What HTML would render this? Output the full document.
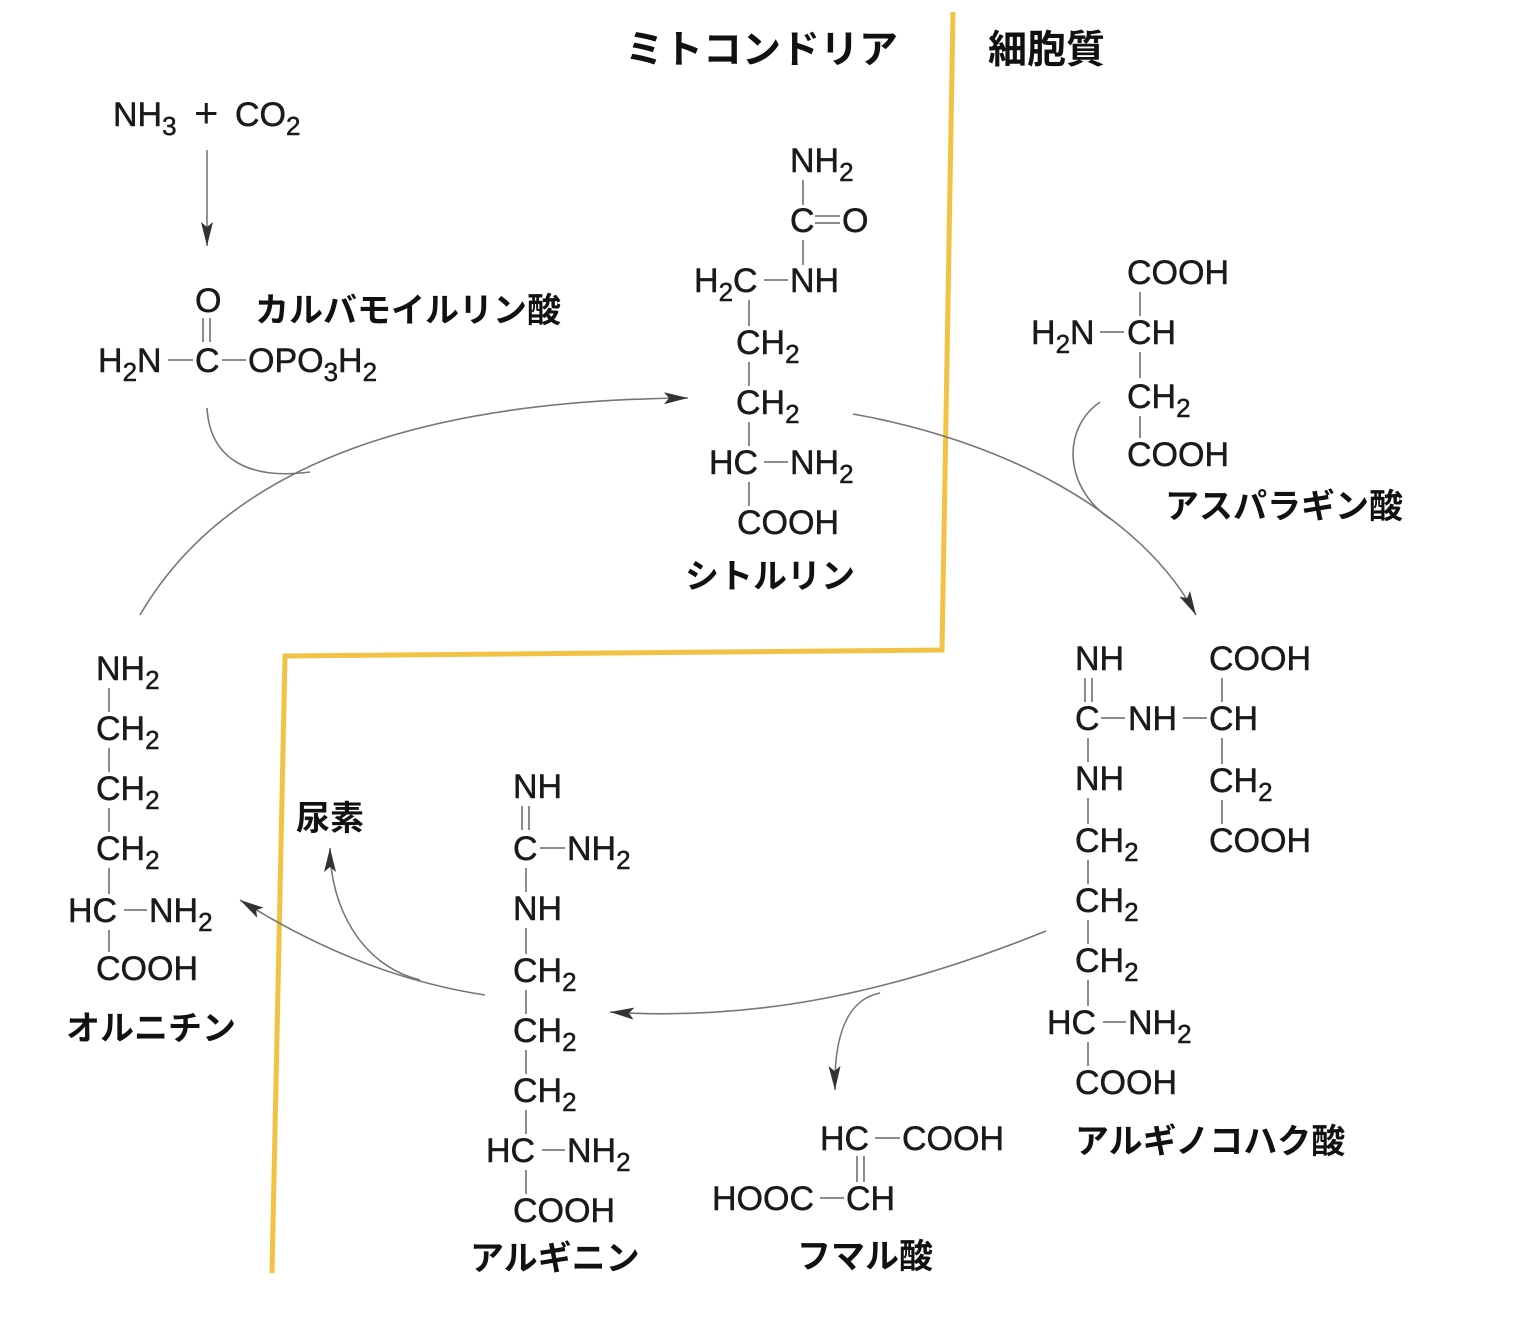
<!DOCTYPE html>
<html><head><meta charset="utf-8"><style>
html,body{margin:0;padding:0;background:#fff;}
svg{display:block;}
.c{font-family:"Liberation Sans",sans-serif;font-size:34px;fill:#1a1a1a;stroke:#1a1a1a;stroke-width:0.5;}
.j{font-family:"Liberation Sans","Noto Sans CJK JP",sans-serif;font-size:34px;font-weight:bold;fill:#111;}
.s{font-size:26px;}
.b{stroke:#666;stroke-width:1.5;fill:none;}
.a{stroke:#777;stroke-width:1.6;fill:none;}
</style></head><body>
<svg width="1514" height="1320" viewBox="0 0 1514 1320" xmlns="http://www.w3.org/2000/svg">
<defs>
<marker id="ar" viewBox="0 0 24 12" refX="24" refY="6" markerWidth="24" markerHeight="12" markerUnits="userSpaceOnUse" orient="auto">
<path d="M0,0 L24,6 L0,12 L5,6 Z" fill="#333"/></marker>
</defs>

<polyline points="953,12 942,650 285,656 272,1273" fill="none" stroke="#f1c244" stroke-width="5"/>

<text class="j" x="625" y="63" style="font-size:39px">ミトコンドリア</text>
<text class="j" x="988" y="63" style="font-size:39px">細胞質</text>

<text class="c" x="113" y="126">NH<tspan class="s" dy="9">3</tspan></text>
<text class="c" x="194" y="127" style="font-size:42px;stroke-width:0">+</text>
<text class="c" x="235" y="126">CO<tspan class="s" dy="9">2</tspan></text>
<path class="a" d="M207,150 L207,246" marker-end="url(#ar)"/>

<text class="c" x="195" y="312">O</text>
<line class="b" x1="203" y1="318" x2="203" y2="342"/><line class="b" x1="210" y1="318" x2="210" y2="342"/>
<text class="c" x="98" y="372">H<tspan class="s" dy="9">2</tspan><tspan dy="-9">N</tspan></text>
<line class="b" x1="168" y1="360" x2="193" y2="360"/>
<text class="c" x="195" y="372">C</text>
<line class="b" x1="222" y1="360" x2="246" y2="360"/>
<text class="c" x="248" y="372">OPO<tspan class="s" dy="9">3</tspan><tspan dy="-9">H</tspan><tspan class="s" dy="9">2</tspan></text>
<text class="j" x="255" y="322">カルバモイルリン酸</text>

<text class="c" x="790" y="172">NH<tspan class="s" dy="9">2</tspan></text>
<line class="b" x1="803" y1="180" x2="803" y2="205"/>
<text class="c" x="790" y="232">C</text>
<line class="b" x1="815" y1="216" x2="840" y2="216"/><line class="b" x1="815" y1="223" x2="840" y2="223"/>
<text class="c" x="842" y="232">O</text>
<line class="b" x1="803" y1="240" x2="803" y2="265"/>
<text class="c" x="694" y="292">H<tspan class="s" dy="9">2</tspan><tspan dy="-9">C</tspan></text>
<line class="b" x1="764" y1="280" x2="788" y2="280"/>
<text class="c" x="790" y="292">NH</text>
<line class="b" x1="749" y1="300" x2="749" y2="326"/>
<text class="c" x="736" y="354">CH<tspan class="s" dy="9">2</tspan></text>
<line class="b" x1="749" y1="362" x2="749" y2="386"/>
<text class="c" x="736" y="414">CH<tspan class="s" dy="9">2</tspan></text>
<line class="b" x1="749" y1="422" x2="749" y2="446"/>
<text class="c" x="709" y="474">HC</text>
<line class="b" x1="764" y1="462" x2="788" y2="462"/>
<text class="c" x="790" y="474">NH<tspan class="s" dy="9">2</tspan></text>
<line class="b" x1="749" y1="482" x2="749" y2="506"/>
<text class="c" x="737" y="534">COOH</text>
<text class="j" x="685" y="588">シトルリン</text>

<text class="c" x="1127" y="284">COOH</text>
<line class="b" x1="1140" y1="292" x2="1140" y2="316"/>
<text class="c" x="1031" y="344">H<tspan class="s" dy="9">2</tspan><tspan dy="-9">N</tspan></text>
<line class="b" x1="1100" y1="332" x2="1124" y2="332"/>
<text class="c" x="1127" y="344">CH</text>
<line class="b" x1="1140" y1="352" x2="1140" y2="378"/>
<text class="c" x="1127" y="408">CH<tspan class="s" dy="9">2</tspan></text>
<line class="b" x1="1140" y1="416" x2="1140" y2="438"/>
<text class="c" x="1127" y="466">COOH</text>
<text class="j" x="1165" y="518">アスパラギン酸</text>

<text class="c" x="1075" y="670">NH</text>
<text class="c" x="1209" y="670">COOH</text>
<line class="b" x1="1085" y1="678" x2="1085" y2="702"/><line class="b" x1="1092" y1="678" x2="1092" y2="702"/>
<line class="b" x1="1222" y1="678" x2="1222" y2="702"/>
<text class="c" x="1075" y="730">C</text>
<line class="b" x1="1101" y1="718" x2="1125" y2="718"/>
<text class="c" x="1128" y="730">NH</text>
<line class="b" x1="1183" y1="718" x2="1207" y2="718"/>
<text class="c" x="1209" y="730">CH</text>
<line class="b" x1="1088" y1="738" x2="1088" y2="762"/>
<line class="b" x1="1222" y1="738" x2="1222" y2="764"/>
<text class="c" x="1075" y="790">NH</text>
<text class="c" x="1209" y="792">CH<tspan class="s" dy="9">2</tspan></text>
<line class="b" x1="1088" y1="798" x2="1088" y2="824"/>
<line class="b" x1="1222" y1="800" x2="1222" y2="824"/>
<text class="c" x="1075" y="852">CH<tspan class="s" dy="9">2</tspan></text>
<text class="c" x="1209" y="852">COOH</text>
<line class="b" x1="1088" y1="860" x2="1088" y2="884"/>
<text class="c" x="1075" y="912">CH<tspan class="s" dy="9">2</tspan></text>
<line class="b" x1="1088" y1="920" x2="1088" y2="944"/>
<text class="c" x="1075" y="972">CH<tspan class="s" dy="9">2</tspan></text>
<line class="b" x1="1088" y1="980" x2="1088" y2="1006"/>
<text class="c" x="1047" y="1034">HC</text>
<line class="b" x1="1103" y1="1022" x2="1126" y2="1022"/>
<text class="c" x="1128" y="1034">NH<tspan class="s" dy="9">2</tspan></text>
<line class="b" x1="1088" y1="1042" x2="1088" y2="1066"/>
<text class="c" x="1075" y="1094">COOH</text>
<text class="j" x="1075" y="1153">アルギノコハク酸</text>

<text class="c" x="820" y="1150">HC</text>
<line class="b" x1="875" y1="1138" x2="900" y2="1138"/>
<text class="c" x="902" y="1150">COOH</text>
<line class="b" x1="857" y1="1156" x2="857" y2="1182"/><line class="b" x1="864" y1="1156" x2="864" y2="1182"/>
<text class="c" x="712" y="1210">HOOC</text>
<line class="b" x1="820" y1="1198" x2="844" y2="1198"/>
<text class="c" x="846" y="1210">CH</text>
<text class="j" x="797" y="1268">フマル酸</text>

<text class="c" x="513" y="798">NH</text>
<line class="b" x1="522" y1="806" x2="522" y2="830"/><line class="b" x1="529" y1="806" x2="529" y2="830"/>
<text class="c" x="513" y="860">C</text>
<line class="b" x1="540" y1="848" x2="565" y2="848"/>
<text class="c" x="567" y="860">NH<tspan class="s" dy="9">2</tspan></text>
<line class="b" x1="526" y1="868" x2="526" y2="892"/>
<text class="c" x="513" y="920">NH</text>
<line class="b" x1="526" y1="928" x2="526" y2="954"/>
<text class="c" x="513" y="982">CH<tspan class="s" dy="9">2</tspan></text>
<line class="b" x1="526" y1="990" x2="526" y2="1014"/>
<text class="c" x="513" y="1042">CH<tspan class="s" dy="9">2</tspan></text>
<line class="b" x1="526" y1="1050" x2="526" y2="1074"/>
<text class="c" x="513" y="1102">CH<tspan class="s" dy="9">2</tspan></text>
<line class="b" x1="526" y1="1110" x2="526" y2="1134"/>
<text class="c" x="486" y="1162">HC</text>
<line class="b" x1="542" y1="1150" x2="565" y2="1150"/>
<text class="c" x="567" y="1162">NH<tspan class="s" dy="9">2</tspan></text>
<line class="b" x1="526" y1="1170" x2="526" y2="1194"/>
<text class="c" x="513" y="1222">COOH</text>
<text class="j" x="470" y="1270">アルギニン</text>

<text class="c" x="96" y="680">NH<tspan class="s" dy="9">2</tspan></text>
<line class="b" x1="109" y1="688" x2="109" y2="712"/>
<text class="c" x="96" y="740">CH<tspan class="s" dy="9">2</tspan></text>
<line class="b" x1="109" y1="748" x2="109" y2="772"/>
<text class="c" x="96" y="800">CH<tspan class="s" dy="9">2</tspan></text>
<line class="b" x1="109" y1="808" x2="109" y2="832"/>
<text class="c" x="96" y="860">CH<tspan class="s" dy="9">2</tspan></text>
<line class="b" x1="109" y1="868" x2="109" y2="894"/>
<text class="c" x="68" y="922">HC</text>
<line class="b" x1="124" y1="910" x2="147" y2="910"/>
<text class="c" x="149" y="922">NH<tspan class="s" dy="9">2</tspan></text>
<line class="b" x1="109" y1="930" x2="109" y2="952"/>
<text class="c" x="96" y="980">COOH</text>
<text class="j" x="66" y="1040">オルニチン</text>
<text class="j" x="296" y="830">尿素</text>

<path class="a" d="M207,408 C210,460 250,480 310,472"/>
<path class="a" d="M140,615 C230,460 430,400 688,398" marker-end="url(#ar)"/>
<path class="a" d="M853,414 C1000,440 1140,510 1196,615" marker-end="url(#ar)"/>
<path class="a" d="M1100,402 C1060,430 1065,490 1112,520"/>
<path class="a" d="M1046,931 C900,990 760,1022 610,1012" marker-end="url(#ar)"/>
<path class="a" d="M880,993 C845,1000 834,1040 835,1090" marker-end="url(#ar)"/>
<path class="a" d="M485,995 C400,982 320,950 240,900" marker-end="url(#ar)"/>
<path class="a" d="M420,980 C360,965 330,905 330,848" marker-end="url(#ar)"/>
</svg>
</body></html>
